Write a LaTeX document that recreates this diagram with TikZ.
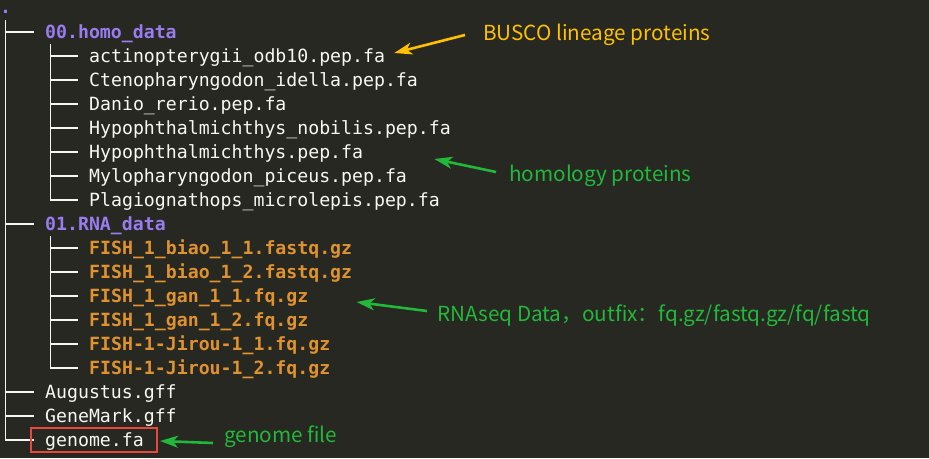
\documentclass[tikz,border=0pt]{standalone}
\usepackage{fontspec}
\usetikzlibrary{arrows.meta}
\newfontfamily\treefont{DejaVu Sans Mono}
\newfontfamily\notefont{Noto Sans CJK SC}
\definecolor{bgcol}{HTML}{272822}
\definecolor{dircol}{HTML}{9B7BF0}
\definecolor{gzcol}{HTML}{E0922E}
\definecolor{filecol}{HTML}{F8F8F2}
\definecolor{notegreen}{HTML}{22B83A}
\definecolor{notegold}{HTML}{FFC000}
\definecolor{boxred}{HTML}{E8473F}
\tikzset{
	entry/.style = {anchor=west, inner sep=0pt, text height=12pt, text depth=0pt, font=\treefont\fontsize{18.2}{22}\selectfont},
	dirname/.style = {entry, text=dircol, font=\treefont\bfseries\fontsize{18.2}{22}\selectfont},
	gzname/.style = {entry, text=gzcol, font=\treefont\bfseries\fontsize{18.2}{22}\selectfont},
	filename/.style = {entry, text=filecol},
	branch/.style = {draw=filecol, line width=1.3pt},
	note/.style = {anchor=west, inner sep=0pt, font=\notefont\fontsize{20.7}{24}\selectfont},
	pointer/.style = {line width=2.6pt, -{Stealth[length=18pt, width=12pt, inset=5pt]}}
}
\begin{document}
\begin{tikzpicture}[x=1pt, y=-1pt]
	\fill [bgcol] (0,0) rectangle (929,458);
	\useasboundingbox (0,0) rectangle (929,458);
	\node [dirname] (root) at (0,7) {.};
	\node [dirname] (homo) at (45,32) {00.homo\_data};
	\node [filename] (actino) at (89,56) {actinopterygii\_odb10.pep.fa};
	\node [filename] (cteno) at (89,80) {Ctenopharyngodon\_idella.pep.fa};
	\node [filename] (danio) at (89,104) {Danio\_rerio.pep.fa};
	\node [filename] (hypnob) at (89,128) {Hypophthalmichthys\_nobilis.pep.fa};
	\node [filename] (hyp) at (89,152) {Hypophthalmichthys.pep.fa};
	\node [filename] (mylo) at (89,176) {Mylopharyngodon\_piceus.pep.fa};
	\node [filename] (plagio) at (89,200) {Plagiognathops\_microlepis.pep.fa};
	\node [dirname] (rna) at (45,224) {01.RNA\_data};
	\node [gzname] (biao1) at (89,248) {FISH\_1\_biao\_1\_1.fastq.gz};
	\node [gzname] (biao2) at (89,272) {FISH\_1\_biao\_1\_2.fastq.gz};
	\node [gzname] (gan1) at (89,296) {FISH\_1\_gan\_1\_1.fq.gz};
	\node [gzname] (gan2) at (89,320) {FISH\_1\_gan\_1\_2.fq.gz};
	\node [gzname] (jirou1) at (89,344) {FISH-1-Jirou-1\_1.fq.gz};
	\node [gzname] (jirou2) at (89,368) {FISH-1-Jirou-1\_2.fq.gz};
	\node [filename] (augustus) at (45,392) {Augustus.gff};
	\node [filename] (genemark) at (45,416) {GeneMark.gff};
	\node [filename] (genome) at (45,440) {genome.fa};
	\draw [branch] ([yshift=-7pt]root.south) |- ([xshift=-11pt]genome.west);
	\foreach \d in {homo, rna, augustus, genemark}
		\draw [branch] (root.south |- \d.west) -- ([xshift=-11pt]\d.west);
	\draw [branch] ([xshift=5.5pt, yshift=-6pt]homo.south west) |- ([xshift=-11pt]plagio.west);
	\foreach \f in {actino, cteno, danio, hypnob, hyp, mylo}
		\draw [branch] ([xshift=5.5pt]homo.south west |- \f.west) -- ([xshift=-11pt]\f.west);
	\draw [branch] ([xshift=5.5pt, yshift=-6pt]rna.south west) |- ([xshift=-11pt]jirou2.west);
	\foreach \f in {biao1, biao2, gan1, gan2, jirou1}
		\draw [branch] ([xshift=5.5pt]rna.south west |- \f.west) -- ([xshift=-11pt]\f.west);
	\draw [boxred, line width=2.2pt] ([shift={(-14pt,12pt)}]genome.west) rectangle ([shift={(13pt,-12pt)}]genome.east);
	\node [note, text=notegold] (busco) at (483,35) {BUSCO lineage proteins};
	\node [note, text=notegreen] (homology) at (509,176) {homology proteins};
	\node [note, text=notegreen] (rnaseq) at (437,316) {RNAseq Data，outfix：fq.gz/fastq.gz/fq/fastq};
	\node [note, text=notegreen] (genomefile) at (224,437) {genome file};
	\draw [pointer, notegold] ([xshift=-18pt]busco.west) -- ([shift={(9pt,3pt)}]actino.east);
	\draw [pointer, notegreen] ([shift={(-13pt,4pt)}]homology.west) -- ([shift={(71pt,-7pt)}]hyp.east);
	\draw [pointer, notegreen] ([shift={(-10pt,5pt)}]rnaseq.west) -- ([shift={(48pt,-6pt)}]gan1.east);
	\draw [pointer, notegreen] ([shift={(-11pt,-6pt)}]genomefile.west) -- ([shift={(16pt,-1pt)}]genome.east);
\end{tikzpicture}
\end{document}
